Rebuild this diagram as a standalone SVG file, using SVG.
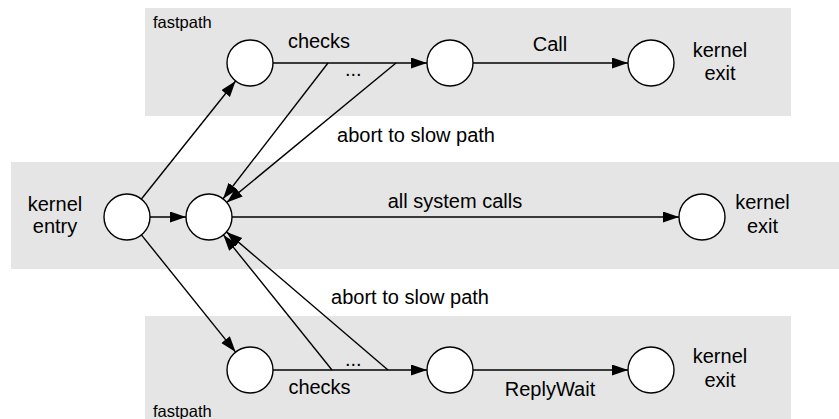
<svg xmlns="http://www.w3.org/2000/svg" width="839" height="419" viewBox="0 0 839 419">
<defs>
<style>
.band{fill:#e5e5e5;stroke:none}
.node{fill:#fff;stroke:#000;stroke-width:1.4}
.edge{stroke:#000;stroke-width:1.4;fill:none}
.lbl{font-family:"Liberation Sans",Arial,Helvetica,sans-serif;font-size:20px;fill:#000}
.mid{text-anchor:middle}
.small{font-family:"Liberation Sans",Arial,Helvetica,sans-serif;font-size:16.5px;fill:#000}
</style>
<marker id="arr" markerUnits="userSpaceOnUse" markerWidth="17" markerHeight="12" refX="16" refY="5.5" orient="auto">
<path d="M0,0 L16,5.5 L0,11 z" fill="#000"/>
</marker>
</defs>
<g id="bands">
<rect class="band" x="145" y="8" width="646" height="108"/>
<rect class="band" x="11" y="162" width="828" height="107"/>
<rect class="band" x="145" y="316" width="646" height="103"/>
<text class="small" x="153" y="28">fastpath</text>
<text class="small" x="153" y="417">fastpath</text>
</g>
<g id="connectors">
<line class="edge" x1="141.4" y1="199" x2="235.6" y2="81" marker-end="url(#arr)"/>
<line class="edge" x1="150" y1="217" x2="186" y2="217" marker-end="url(#arr)"/>
<line class="edge" x1="141.4" y1="234.9" x2="235.6" y2="352.1" marker-end="url(#arr)"/>
<line class="edge" x1="273" y1="63" x2="427" y2="63" marker-end="url(#arr)"/>
<line class="edge" x1="473" y1="63" x2="628" y2="63" marker-end="url(#arr)"/>
<line class="edge" x1="232" y1="217" x2="679" y2="217" marker-end="url(#arr)"/>
<line class="edge" x1="273" y1="370" x2="427" y2="370" marker-end="url(#arr)"/>
<line class="edge" x1="473" y1="370" x2="628" y2="370" marker-end="url(#arr)"/>
<line class="edge" x1="328" y1="63" x2="223.1" y2="198.8" marker-end="url(#arr)"/>
<line class="edge" x1="396" y1="63" x2="226.8" y2="202.4" marker-end="url(#arr)"/>
<line class="edge" x1="332" y1="370" x2="223.4" y2="234.9" marker-end="url(#arr)"/>
<line class="edge" x1="388" y1="370" x2="226.5" y2="231.9" marker-end="url(#arr)"/>
<text class="lbl mid" x="319" y="48">checks</text>
<text class="lbl" x="345" y="76">...</text>
<text class="lbl mid" x="550" y="51">Call</text>
<text class="lbl mid" x="416" y="142">abort to slow path</text>
<text class="lbl mid" x="455" y="208">all system calls</text>
<text class="lbl mid" x="410" y="304">abort to slow path</text>
<text class="lbl" x="345" y="366">...</text>
<text class="lbl mid" x="319.5" y="394">checks</text>
<text class="lbl mid" x="550" y="396">ReplyWait</text>
</g>
<g id="entry">
<circle class="node" cx="127" cy="217" r="23"/>
<text class="lbl mid" x="55" y="211">kernel</text>
<text class="lbl mid" x="55" y="233">entry</text>
</g>
<g id="slow"><circle class="node" cx="209" cy="217" r="23"/></g>
<g id="slow-exit">
<circle class="node" cx="702" cy="217" r="23"/>
<text class="lbl mid" x="762.5" y="209">kernel</text>
<text class="lbl mid" x="762.5" y="233">exit</text>
</g>
<g id="call-start"><circle class="node" cx="250" cy="63" r="23"/></g>
<g id="call-mid"><circle class="node" cx="450" cy="63" r="23"/></g>
<g id="call-exit">
<circle class="node" cx="651" cy="63" r="23"/>
<text class="lbl mid" x="720" y="57">kernel</text>
<text class="lbl mid" x="720" y="80">exit</text>
</g>
<g id="rw-start"><circle class="node" cx="250" cy="370" r="23"/></g>
<g id="rw-mid"><circle class="node" cx="450" cy="370" r="23"/></g>
<g id="rw-exit">
<circle class="node" cx="651" cy="370" r="23"/>
<text class="lbl mid" x="720" y="363">kernel</text>
<text class="lbl mid" x="720" y="387">exit</text>
</g>
</svg>
